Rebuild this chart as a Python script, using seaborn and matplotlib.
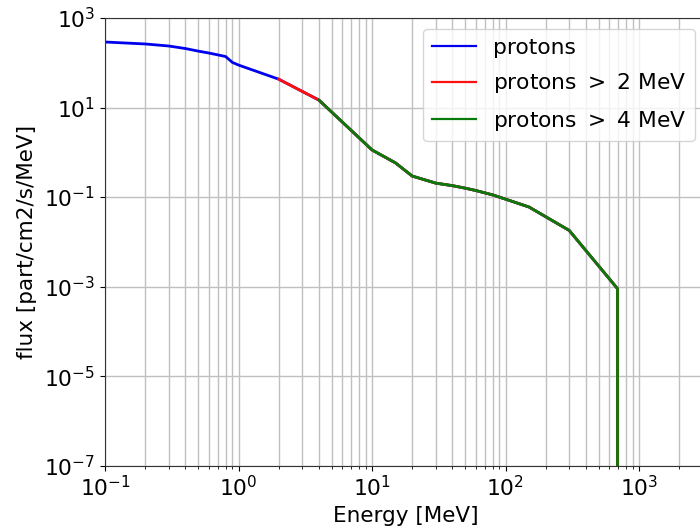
import matplotlib
matplotlib.use("Agg")
import matplotlib.pyplot as plt
import seaborn as sns
import numpy as np
from matplotlib.ticker import NullLocator, LogLocator

energy = [0.1, 0.2, 0.3, 0.4, 0.5, 0.6, 0.7, 0.8, 0.9, 1.0, 2.0, 4.0,
          10, 15, 20, 30, 40, 50, 60, 80, 100, 150, 300, 690, 690]
flux = [291, 263, 237, 208, 182, 165, 150, 138, 102, 89, 43, 14.7,
        1.13, 0.58, 0.295, 0.205, 0.18, 0.158, 0.14, 0.112, 0.09, 0.06, 0.018, 9e-4, 1e-12]

labels = ["protons", "protons $>$ 2 MeV", "protons $>$ 4 MeV"]
thresholds = [0.0, 2.0, 4.0]
colors = ["#0000ee", "#ff1010", "#0a7a0a"]

plt.rcParams["font.family"] = ["DejaVu Sans"]
plt.rcParams["font.size"] = 15.7

fig = plt.figure(figsize=(7.0, 5.3), dpi=100)
ax = fig.add_axes([105 / 700, 64.3 / 530, 600.75 / 700, 447.7 / 530])

e = np.array(energy)
f = np.array(flux)
for lab, th, col in zip(labels, thresholds, colors):
    m = e >= th
    sns.lineplot(x=e[m], y=f[m], color=col, linewidth=2, label=lab,
                 estimator=None, sort=False, ax=ax)

ax.set_xscale("log")
ax.set_yscale("log")
ax.set_xlim(0.1, 10 ** 3.5)
ax.set_ylim(1e-7, 1e3)
ax.set_yticks([1e3, 1e1, 1e-1, 1e-3, 1e-5, 1e-7])
ax.yaxis.set_minor_locator(NullLocator())
ax.xaxis.set_major_locator(LogLocator(base=10, numticks=20))
ax.xaxis.set_minor_locator(LogLocator(base=10, subs=np.arange(2, 10), numticks=50))
ax.grid(True, which="both", color="#c0c0c0", linewidth=1)
ax.set_axisbelow(True)
for s in ax.spines.values():
    s.set_color("#333333")
ax.tick_params(labelsize=15.7)
ax.set_xlabel("Energy [MeV]", fontsize=15.5)
ax.set_ylabel("flux [part/cm2/s/MeV]", fontsize=15.5, labelpad=5)
leg = ax.legend(loc="upper right", fontsize=15.7, labelspacing=0.62)
for h in leg.get_lines():
    h.set_linewidth(1.6)

fig.savefig("out.png", dpi=100)
